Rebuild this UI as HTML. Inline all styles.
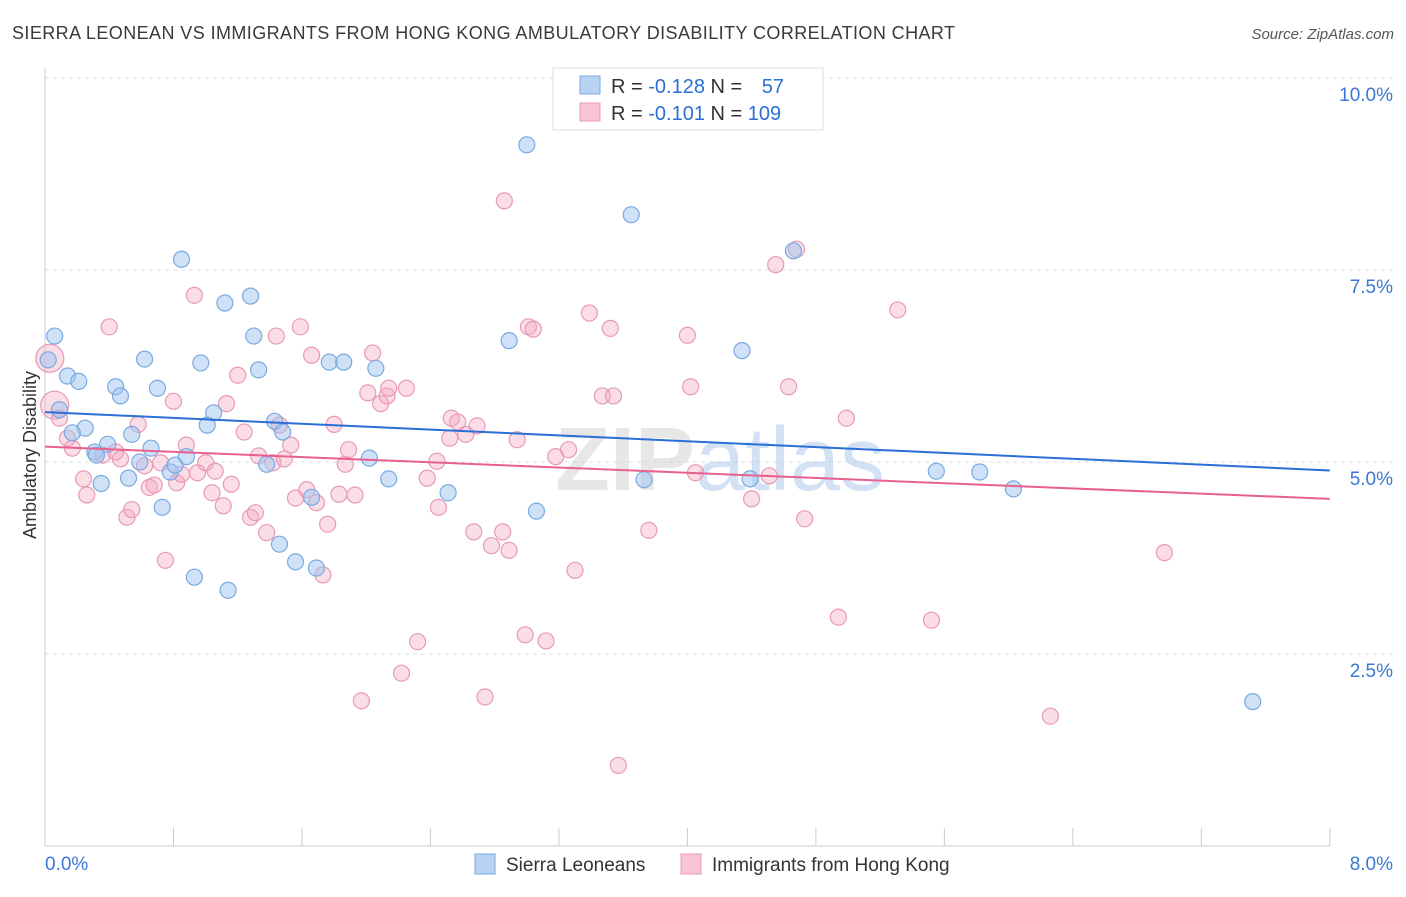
<!DOCTYPE html>
<html><head><meta charset="utf-8"><style>
body{margin:0;background:#fff;font-family:"Liberation Sans",sans-serif;}
svg text{font-family:"Liberation Sans",sans-serif;}
</style></head><body>
<svg width="1406" height="892" viewBox="0 0 1406 892">
<text x="12" y="39" font-size="18" fill="#3a3a3a" textLength="943" lengthAdjust="spacing">SIERRA LEONEAN VS IMMIGRANTS FROM HONG KONG AMBULATORY DISABILITY CORRELATION CHART</text>
<text x="1394" y="39" font-size="15" fill="#555" text-anchor="end" font-style="italic">Source: ZipAtlas.com</text>
<g id="grid"></g>
<g id="axes"></g>
<text x="720" y="490" font-size="90" text-anchor="middle" fill="#ccc" opacity="0.45" font-family="Liberation Serif"><tspan font-weight="bold">ZIP</tspan><tspan fill="#9cc0e8" font-family="Liberation Sans">atlas</tspan></text>
<g id="pink"></g>
<g id="blue"></g>
<g id="lines"></g>
<text x="36" y="455" font-size="18" fill="#333" text-anchor="middle" transform="rotate(-90 36 455)">Ambulatory Disability</text>
<g>
<rect x="553" y="68" width="270" height="62" fill="#fff" stroke="#ddd"/>
<rect x="580" y="76" width="20" height="18" fill="#b8d2f4" stroke="#7aaae0"/>
<rect x="580" y="103" width="20" height="18" fill="#f8c4d6" stroke="#e89ab5"/>
<text x="611" y="93" font-size="20" fill="#333">R = <tspan fill="#2a6fd6">-0.128</tspan>   N = <tspan fill="#2a6fd6" dx="14">57</tspan></text>
<text x="611" y="120" font-size="20" fill="#333">R = <tspan fill="#2a6fd6"> -0.101</tspan>   N = <tspan fill="#2a6fd6">109</tspan></text>
</g>
<g>
<rect x="475" y="854" width="20" height="20" fill="#b8d2f4" stroke="#7aaae0"/>
<text x="506" y="871" font-size="19" fill="#333">Sierra Leoneans</text>
<rect x="681" y="854" width="20" height="20" fill="#f8c4d6" stroke="#e89ab5"/>
<text x="712" y="871" font-size="19" fill="#333">Immigrants from Hong Kong</text>
</g>
</svg>
<script>
const blueX=[0.06,0.02,0.14,0.21,0.09,0.25,0.17,0.31,0.32,0.39,0.35,0.44,0.47,0.52,0.54,0.59,0.62,0.66,0.70,0.73,0.78,0.81,0.85,0.88,0.93,0.97,1.01,1.05,1.12,1.14,1.28,1.30,1.33,1.38,1.43,1.46,1.48,1.56,1.66,1.69,1.77,1.86,2.02,2.06,2.14,2.51,2.89,3.00,3.06,3.65,3.73,4.34,4.39,4.66,5.55,5.82,6.03,7.52];
const blueY=[6.64,6.33,6.12,6.05,5.68,5.44,5.38,5.13,5.09,5.23,4.72,5.98,5.86,4.79,5.36,5.00,6.34,5.18,5.96,4.41,4.87,4.96,7.64,5.07,3.50,6.29,5.48,5.64,7.07,3.33,7.16,6.64,6.20,4.97,5.53,3.93,5.39,3.70,4.54,3.62,6.30,6.30,5.05,6.22,4.78,4.60,6.58,9.13,4.36,8.22,4.77,6.45,4.78,7.75,4.88,4.87,4.65,1.88];
const pinkX=[0.03,0.06,0.09,0.14,0.17,0.24,0.26,0.36,0.40,0.44,0.47,0.51,0.54,0.58,0.62,0.65,0.68,0.72,0.75,0.80,0.82,0.85,0.88,0.93,0.95,1.00,1.04,1.06,1.11,1.13,1.16,1.20,1.24,1.28,1.31,1.33,1.38,1.42,1.44,1.46,1.49,1.53,1.56,1.59,1.63,1.66,1.69,1.73,1.76,1.80,1.83,1.87,1.89,1.93,1.97,2.01,2.04,2.09,2.13,2.14,2.22,2.25,2.32,2.38,2.44,2.45,2.52,2.53,2.57,2.62,2.67,2.69,2.74,2.78,2.85,2.86,2.89,2.94,2.99,3.01,3.04,3.12,3.18,3.26,3.30,3.39,3.47,3.52,3.54,3.57,3.76,4.00,4.02,4.05,4.40,4.51,4.55,4.63,4.68,4.73,4.94,4.99,5.31,5.52,6.26,6.97];
const pinkY=[6.35,5.74,5.57,5.31,5.18,4.78,4.57,5.09,6.76,5.13,5.04,4.28,4.38,5.49,4.95,4.67,4.70,4.99,3.72,5.79,4.73,4.84,5.22,7.17,4.86,4.99,4.60,4.88,4.43,5.76,4.71,6.13,5.39,4.28,4.34,5.08,4.08,4.99,6.64,5.48,5.04,5.22,4.53,6.76,4.64,6.39,4.47,3.53,4.19,5.49,4.58,4.97,5.16,4.57,1.89,5.90,6.42,5.76,5.86,5.96,2.25,5.96,2.66,4.79,5.01,4.41,5.31,5.57,5.52,5.36,4.09,5.47,1.94,3.91,4.09,8.40,3.85,5.29,2.75,6.76,6.73,2.67,5.07,5.16,3.59,6.94,5.86,6.74,5.86,1.05,4.11,6.65,5.98,4.86,4.52,4.82,7.57,5.98,7.77,4.26,2.98,5.57,6.98,2.94,1.69,3.82];
const blueTrend=[5.65,4.89];
const pinkTrend=[5.20,4.52];
const yTicks=[2.5,5.0,7.5,10.0];
const xTicks=[0,0.8,1.6,2.4,3.2,4.0,4.8,5.6,6.4,7.2,8.0];
const NS="http://www.w3.org/2000/svg";
const sx=v=>45+v*160.6, sy=v=>846-v*76.8;
function mk(tag,attrs,parent){const e=document.createElementNS(NS,tag);for(const k in attrs)e.setAttribute(k,attrs[k]);parent.appendChild(e);return e;}
const grid=document.getElementById('grid'),axes=document.getElementById('axes');
yTicks.forEach(t=>{
 const l=mk('line',{x1:45,x2:1393,y1:sy(t),y2:sy(t),stroke:'#ddd','stroke-dasharray':'4,4'},grid);
 
 
 const tx=mk('text',{x:1393,y:sy(t)+23,'font-size':19,fill:'#3a78d4','text-anchor':'end'},axes);
 tx.textContent=t.toFixed(1)+'%';
 
 
});
mk('line',{x1:45,x2:45,y1:68,y2:846,stroke:'#ccc'},axes);
mk('line',{x1:45,x2:1330,y1:846,y2:846,stroke:'#ccc'},axes);
xTicks.forEach(t=>{
 const l=mk('line',{x1:sx(t),x2:sx(t),y1:828,y2:846,stroke:'#ccc'},axes);
 
 
});
[[0,'start'],[8,'end']].forEach(([t,a])=>{
 const tx=mk('text',{x:t===0?45:1393,y:870,'font-size':19,fill:'#3a78d4','text-anchor':a},axes);
 tx.textContent=t.toFixed(1)+'%';
 
 
});
function pts(X,Y,g,fill,stroke,big){
 X.forEach((x,i)=>{
  const c=mk('circle',{cx:sx(x),cy:sy(Y[i]),r:(big&&i<2)?14:8,fill:fill,stroke:stroke,'stroke-width':1.2},g);
  
  
 });
}
pts(pinkX,pinkY,document.getElementById('pink'),'rgba(244,170,196,0.4)','#e89ab5',true);
pts(blueX,blueY,document.getElementById('blue'),'rgba(160,196,240,0.5)','#7aaae0',false);
const lg=document.getElementById('lines');
const bl=mk('line',{x1:sx(0),y1:sy(blueTrend[0]),x2:sx(8),y2:sy(blueTrend[1]),stroke:'#2a6fd6','stroke-width':2},lg);


const pl=mk('line',{x1:sx(0),y1:sy(pinkTrend[0]),x2:sx(8),y2:sy(pinkTrend[1]),stroke:'#e8608e','stroke-width':2},lg);


</script>
</body></html>
